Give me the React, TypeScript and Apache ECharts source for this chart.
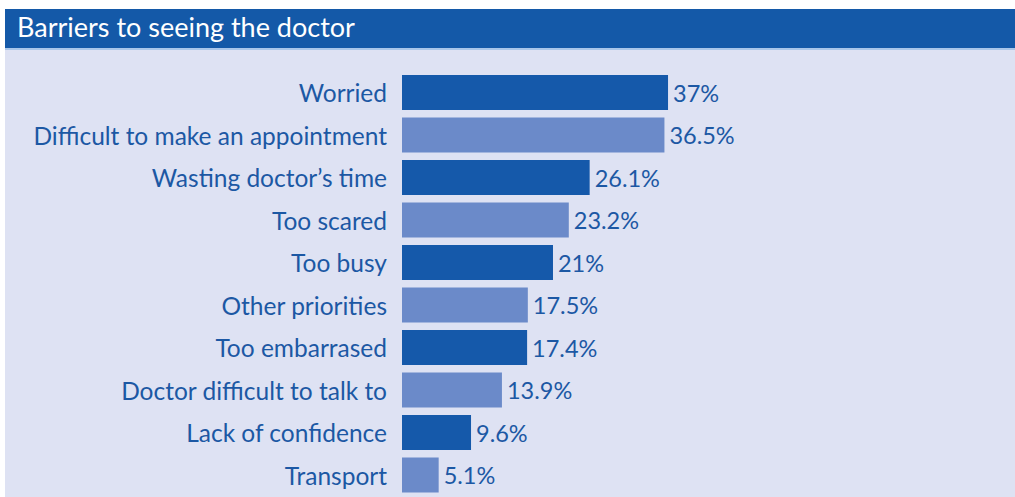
import React, { useEffect, useRef } from "react";
import * as echarts from "echarts";

const title = "Barriers to seeing the doctor";
const categories = [
  "Worried",
  "Difficult to make an appointment",
  "Wasting doctor’s time",
  "Too scared",
  "Too busy",
  "Other priorities",
  "Too embarrased",
  "Doctor difficult to talk to",
  "Lack of confidence",
  "Transport",
];
const values = [37, 36.5, 26.1, 23.2, 21, 17.5, 17.4, 13.9, 9.6, 5.1];
const barColors = ["#1559aa", "#6b8ac9"];

export default function App() {
  const ref = useRef<HTMLDivElement>(null);
  useEffect(() => {
    if (!ref.current) return;
    const chart = echarts.init(ref.current, null, { renderer: "svg" });
    const textColor = "#1c58a4";
    chart.setOption({
      animation: false,
      backgroundColor: "#ffffff",
      graphic: [
        { type: "rect", shape: { x: 5, y: 50, width: 1010, height: 447 }, style: { fill: "#dee2f3" }, z: -10 },
        { type: "rect", shape: { x: 5, y: 9, width: 1010, height: 40 }, style: { fill: "#1459a8" }, z: -10 },
        { type: "rect", shape: { x: 5, y: 48, width: 1010, height: 2 }, style: { fill: "#a9c6ea" }, z: -10 },
        {
          type: "text",
          left: 17,
          top: 13,
          style: { text: title, fill: "#ffffff", font: "27px Lato", textVerticalAlign: "top" },
        },
      ],
      grid: { left: 402, top: 71.25, width: 287.6, height: 425 },
      xAxis: { type: "value", min: 0, max: 40, show: false },
      yAxis: {
        type: "category",
        data: categories,
        inverse: true,
        axisLine: { show: false },
        axisTick: { show: false },
        axisLabel: { color: textColor, fontSize: 24.5, fontFamily: "Lato", margin: 15, padding: [0, 0, 4, 0] },
      },
      series: [
        {
          type: "bar",
          barWidth: 35,
          data: values.map((v, i) => ({ value: v, itemStyle: { color: barColors[i % 2] } })),
          label: {
            show: true,
            position: "right",
            distance: 5,
            formatter: "{c}%",
            color: textColor,
            fontSize: 23.5,
            fontFamily: "Lato",
            padding: [0, 0, 4, 0],
          },
        },
      ],
    });
    return () => chart.dispose();
  }, []);
  return <div ref={ref} style={{ position: "absolute", left: 0, top: 0, width: 1015, height: 497 }} />;
}
